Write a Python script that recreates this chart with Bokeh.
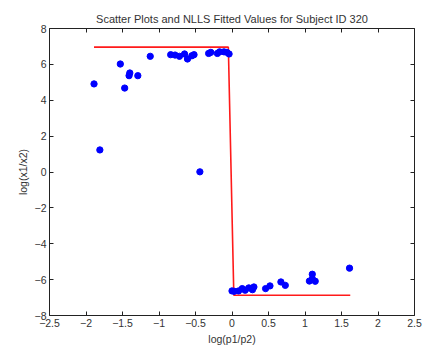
from bokeh.plotting import figure
from bokeh.models import LinearAxis, FixedTicker, Range1d, CustomJSTickFormatter
from bokeh.embed import file_html
from bokeh.resources import INLINE

# data: log(p1/p2) vs log(x1/x2)
x_vals = [-1.89, -1.81, -1.53, -1.47, -1.40, -1.41, -1.29, -1.12, -0.84, -0.78,
          -0.72, -0.65, -0.61, -0.55, -0.52, -0.44, -0.32, -0.29, -0.20, -0.17,
          -0.11, -0.07, -0.04,
          0.00, 0.03, 0.09, 0.14, 0.18, 0.23, 0.28, 0.30, 0.46, 0.52,
          0.67, 0.73, 1.06, 1.10, 1.10, 1.14, 1.61]
y_vals = [4.91, 1.23, 6.02, 4.68, 5.52, 5.37, 5.37, 6.45, 6.54, 6.52,
          6.45, 6.58, 6.30, 6.48, 6.54, 0.01, 6.61, 6.67, 6.61, 6.70,
          6.70, 6.67, 6.58,
          -6.63, -6.65, -6.63, -6.50, -6.59, -6.46, -6.56, -6.41, -6.50, -6.35,
          -6.13, -6.32, -6.08, -5.70, -5.95, -6.09, -5.36]

# NLLS fitted values
fit_x = [-1.89, -0.05, 0.025, 1.62]
fit_y = [6.96, 6.96, -6.87, -6.87]

x_ticks = [-2.5, -2, -1.5, -1, -0.5, 0, 0.5, 1, 1.5, 2, 2.5]
y_ticks = [-8, -6, -4, -2, 0, 2, 4, 6, 8]

FONT = "Liberation Sans"
TXT = "#333333"

p = figure(width=435, height=348, output_backend="svg", toolbar_location=None,
           x_range=Range1d(-2.5, 2.5), y_range=Range1d(-8, 8),
           min_border_left=49, min_border_right=21, min_border_top=28,
           min_border_bottom=33,
           title="Scatter Plots and NLLS Fitted Values for Subject ID 320")

p.title.text_font = FONT
p.title.text_font_size = "11px"
p.title.text_font_style = "normal"
p.title.text_color = TXT
p.title.align = "center"
p.title.offset = 0
p.title.standoff = 8

p.xgrid.visible = False
p.ygrid.visible = False
p.outline_line_color = "#222222"
p.outline_line_width = 1
p.background_fill_color = "white"
p.border_fill_color = "white"

for ax, ticks in ((p.xaxis[0], x_ticks), (p.yaxis[0], y_ticks)):
    ax.ticker = FixedTicker(ticks=ticks)
    ax.major_tick_in = 4
    ax.major_tick_out = 0
    ax.minor_tick_in = 0
    ax.minor_tick_out = 0
    ax.axis_line_color = None
    ax.major_tick_line_color = "#222222"
    ax.major_label_text_font = FONT
    ax.major_label_text_font_size = "10.5px"
    ax.major_label_text_color = TXT
    ax.major_label_standoff = 3
    ax.axis_label_text_font = FONT
    ax.axis_label_text_font_size = "10.5px"
    ax.axis_label_text_font_style = "normal"
    ax.axis_label_text_color = TXT
    ax.axis_label_standoff = 3

p.xaxis[0].axis_label = "log(p1/p2)"
p.yaxis[0].axis_label = "log(x1/x2)"

# mirrored tick marks on top and right (no labels)
blank = CustomJSTickFormatter(code="return ''")
top_ax = LinearAxis(ticker=FixedTicker(ticks=x_ticks), major_tick_in=4,
                    major_tick_out=0, minor_tick_in=0, minor_tick_out=0,
                    axis_line_color=None, formatter=blank,
                    major_tick_line_color="#222222", major_label_standoff=0)
right_ax = LinearAxis(ticker=FixedTicker(ticks=y_ticks), major_tick_in=4,
                      major_tick_out=0, minor_tick_in=0, minor_tick_out=0,
                      axis_line_color=None, formatter=blank,
                      major_tick_line_color="#222222", major_label_standoff=0)
p.add_layout(top_ax, "above")
p.add_layout(right_ax, "right")

p.line(fit_x, fit_y, line_color="#ff1a1a", line_width=1.6)
p.scatter(x_vals, y_vals, marker="circle", size=6.3, fill_color="#0000ff",
          line_color="#0000ff")

open("out.html", "w").write(file_html(p, INLINE))
